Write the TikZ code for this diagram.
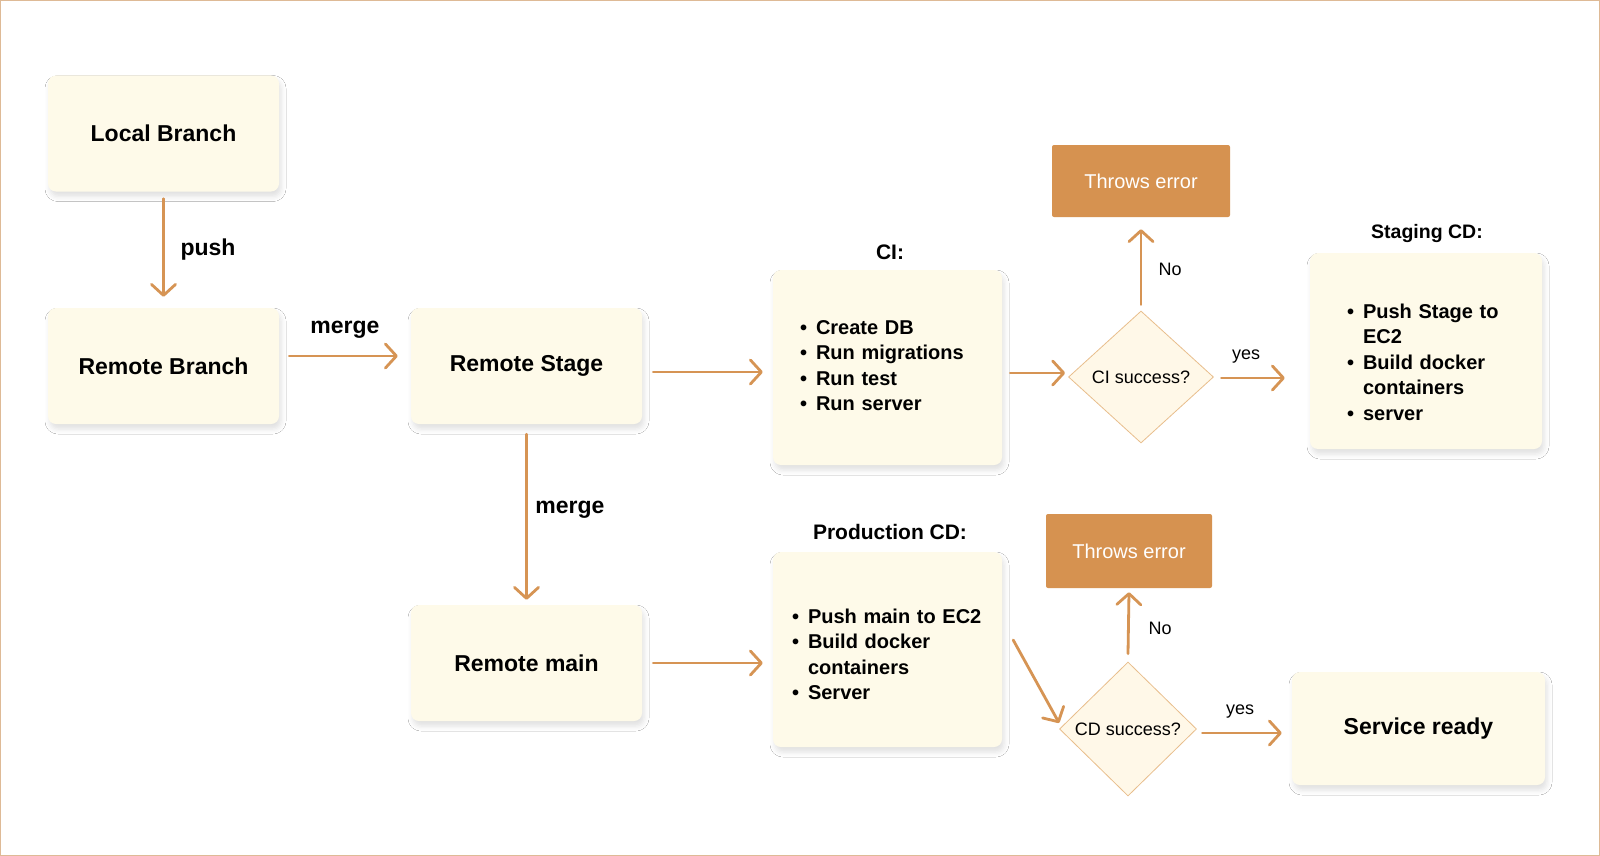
\documentclass[tikz,border=0pt]{standalone}
\usepackage{fontspec}
\setmainfont{Liberation Sans}
\usetikzlibrary{shapes.geometric, arrows.meta, shadows.blur}
\definecolor{boxcream}{RGB}{254, 250, 233}
\definecolor{arrowtan}{RGB}{214, 148, 84}
\definecolor{errorange}{RGB}{214, 146, 80}
\definecolor{framebeige}{RGB}{222, 186, 150}
\definecolor{diamondfill}{RGB}{255, 248, 232}
\definecolor{diamondline}{RGB}{232, 190, 140}

\begin{document}
\begin{tikzpicture}[x=1pt, y=-1pt,
    card/.style={fill=boxcream, rounded corners=8pt, minimum width=231pt, minimum height=116pt,
        blur shadow={shadow xshift=2pt, shadow yshift=-5pt, shadow blur radius=5pt, shadow opacity=12},
        font=\fontsize{23}{28}\selectfont\bfseries},
    listcard/.style={card, minimum width=229pt, minimum height=195pt, align=left,
        font=\fontsize{20}{25.5}\selectfont\bfseries},
    errbox/.style={fill=errorange, rounded corners=2pt, minimum width=178pt, minimum height=72pt,
        text=white, font=\fontsize{20}{24}\selectfont},
    check/.style={diamond, aspect=1.1, draw=diamondline, line width=0.8pt, fill=diamondfill,
        inner sep=0pt, font=\fontsize{18}{21}\selectfont},
    heading/.style={font=\fontsize{21}{25}\selectfont\bfseries},
    tag/.style={font=\fontsize{23}{28}\selectfont\bfseries},
    answer/.style={font=\fontsize{18}{22}\selectfont},
    flow/.style={draw=arrowtan, line width=2.8pt, line cap=round,
        -{Straight Barb[length=11pt, width=24pt, round]}}]
    \useasboundingbox (0,0) rectangle (1600,856);
    \fill[white] (0,0) rectangle (1600,856);
    \draw[framebeige, line width=1.2pt] (0.6,0.6) rectangle (1599.4,855.4);

    % Branches
    \node[card] (local) at (163.5,133.5) {Local Branch};
    \node[card] (rbranch) at (163.5,366) {Remote Branch};
    \node[card] (rstage) at (526.5,366) {Remote Stage};
    \node[card] (rmain) at (526.5,663) {Remote main};

    % CI pipeline
    \node[heading] (cititle) at (890,252) {CI:};
    \node[listcard, inner xsep=27pt, text width=175pt] (ci) at (887.5,367.5) {\begin{tabular}{@{}l@{\hspace{9pt}}l@{}}
        \textbullet & Create DB\\ \textbullet & Run migrations\\ \textbullet & Run test\\ \textbullet & Run server
        \end{tabular}};
    \node[check, minimum width=145pt, minimum height=132pt] (d1) at (1141,377) {CI success?};
    \node[errbox] (err1) at (1141,181) {Throws error};
    \node[heading, font=\fontsize{19.5}{24}\selectfont\bfseries] (stagetitle) at (1427,233) {Staging CD:};
    \node[listcard, minimum width=232pt, minimum height=196pt, inner xsep=37pt, text width=158pt] (staging) at (1426,351) {\begin{tabular}{@{}l@{\hspace{9pt}}l@{}}
        \textbullet & Push Stage to\\ & EC2\\ \textbullet & Build docker\\ & containers\\ \textbullet & server
        \end{tabular}\vspace*{-26pt}};

    % Production pipeline
    \node[heading] (prodtitle) at (890,532) {Production CD:};
    \node[listcard, inner xsep=19pt, text width=191pt] (prod) at (887.5,649.5) {\begin{tabular}{@{}l@{\hspace{9pt}}l@{}}
        \textbullet & Push main to EC2\\ \textbullet & Build docker\\ & containers\\ \textbullet & Server
        \end{tabular}\vspace*{-14pt}};
    \node[check, minimum width=137pt, minimum height=134pt] (d2) at (1128,729) {CD success?};
    \node[errbox, minimum width=166pt, minimum height=74pt] (err2) at (1129,551) {Throws error};
    \node[card, minimum width=253pt, minimum height=113pt] (service) at (1418.5,728.5) {Service ready};

    % Arrows
    \draw[flow] ([yshift=-7pt]local.south) -- ([yshift=11pt]rbranch.north);
    \draw[flow] ([xshift=10pt, yshift=10pt]rbranch.east) -- ([xshift=-13pt, yshift=10pt]rstage.west);
    \draw[flow] ([xshift=11pt, yshift=-6pt]rstage.east) -- ([xshift=-10pt, yshift=-4.5pt]ci.west);
    \draw[flow] ([yshift=-10pt]rstage.south) -- ([yshift=5pt]rmain.north);
    \draw[flow] ([xshift=11pt]rmain.east) -- ([xshift=-10pt, yshift=-13.5pt]prod.west);
    \draw[flow] ([xshift=8pt, yshift=-5.5pt]ci.east) -- ([xshift=-3pt, yshift=4pt]d1.west);
    \draw[flow] ([yshift=6pt]d1.north) -- ([yshift=-12pt]err1.south);
    \draw[flow] ([xshift=7.5pt, yshift=-1pt]d1.east) -- ([xshift=-25pt, yshift=-27pt]staging.west);
    \draw[flow] ([xshift=11pt, yshift=9.5pt]prod.east) -- ([yshift=6pt]d2.west);
    \draw[flow] ([yshift=8pt]d2.north) -- ([yshift=-4pt]err2.south);
    \draw[flow] ([xshift=5.5pt, yshift=-4pt]d2.east) -- ([xshift=-10pt, yshift=-4.5pt]service.west);

    % Arrow labels
    \node[tag] (pushlbl) at (208,250) {push};
    \node[tag] (mergelbl) at (345,330) {merge};
    \node[tag] (mergedown) at (570,510) {merge};
    \node[answer] (no1) at (1170,269) {No};
    \node[answer] (yes1) at (1246,357) {yes};
    \node[answer] (no2) at (1160,628) {No};
    \node[answer] (yes2) at (1240,712) {yes};
\end{tikzpicture}
\end{document}
